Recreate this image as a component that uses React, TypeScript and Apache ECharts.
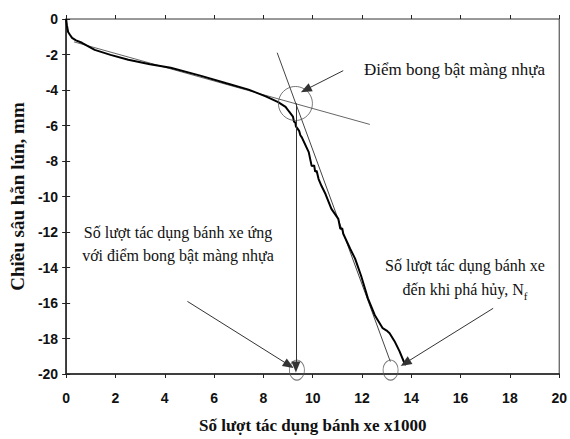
import React, { useEffect, useRef } from "react";
import * as echarts from "echarts";

const xTicks = [0, 2, 4, 6, 8, 10, 12, 14, 16, 18, 20];
const yTicks = [0, -2, -4, -6, -8, -10, -12, -14, -16, -18, -20];

const curveX = [0, 0.03, 0.08, 0.16, 0.24, 0.4, 0.64, 1.16, 1.8, 2.52, 3.4, 4.24, 5.44, 6.5, 7.4, 8.12, 8.6, 8.9, 9.04, 9.2, 9.24, 9.3, 9.32, 9.45, 9.5, 9.56, 9.84, 9.96, 10.06, 10.1, 10.16, 10.24, 10.36, 10.52, 10.76, 11.04, 11.12, 11.2, 11.24, 11.52, 11.72, 11.96, 12.12, 12.24, 12.52, 12.84, 13.0, 13.12, 13.32, 13.52, 13.72, 13.78];
const curveY = [0, -0.35, -0.73, -0.9, -1.06, -1.2, -1.34, -1.74, -2.02, -2.3, -2.55, -2.75, -3.19, -3.62, -3.98, -4.37, -4.68, -4.95, -5.21, -5.5, -5.77, -5.85, -6.05, -6.3, -6.55, -6.67, -7.5, -8.29, -8.25, -8.6, -8.55, -9.02, -9.41, -9.86, -10.7, -11.26, -11.82, -11.8, -12.1, -12.94, -13.5, -14.45, -15.18, -15.74, -16.69, -17.42, -17.55, -17.7, -18.15, -18.71, -19.38, -19.5];

const tangent1 = [[0.32, -1.29], [12.32, -5.94]];
const tangent2 = [[8.56, -1.9], [13.15, -19.3]];
const failPoint = [9.3, -4.76];
const bottomMarks = [[9.36, -19.78], [13.16, -19.78]];

const arrows = [
  [[11.24, -2.91], [9.72, -3.98]],
  [[9.32, -4.76], [9.32, -19.6]],
  [[4.92, -15.91], [9.04, -19.5]],
  [[17.32, -16.3], [13.76, -19.38]],
];

const serif = "'Liberation Serif', 'DejaVu Serif', serif";
const sans = "'Liberation Sans', Arial, sans-serif";

export default function App() {
  const ref = useRef<HTMLDivElement>(null);
  useEffect(() => {
    if (!ref.current) return;
    const chart = echarts.init(ref.current, null, { renderer: "svg" });
    const axisBase = {
      type: "value" as const,
      splitLine: { show: false },
    };
    chart.setOption({
      animation: false,
      backgroundColor: "#fff",
      grid: {
        left: 64,
        top: 19,
        right: 7,
        bottom: 63,
        show: true,
        borderColor: "#333",
        borderWidth: 1,
      },
      xAxis: [
        {
          ...axisBase,
          min: 0,
          max: 20,
          interval: 2,
          axisLine: { show: true, onZero: false, lineStyle: { color: "#222", width: 1.5 } },
          axisTick: { show: true, length: 4, lineStyle: { color: "#222" } },
          axisLabel: {
            fontFamily: sans,
            fontWeight: "bold",
            fontSize: 14,
            color: "#111",
            margin: 17,
          },
          name: "Số lượt tác dụng bánh xe x1000",
          nameLocation: "middle",
          nameGap: 43,
          nameTextStyle: { fontFamily: serif, fontWeight: "bold", fontSize: 17, color: "#111" },
        },
        {
          ...axisBase,
          min: 0,
          max: 20,
          interval: 2,
          position: "bottom",
          axisLine: { show: false },
          axisTick: { show: true, inside: true, length: 4, lineStyle: { color: "#222" } },
          axisLabel: { show: false },
        },
      ],
      yAxis: [
        {
          ...axisBase,
          min: -20,
          max: 0,
          interval: 2,
          axisLine: { show: true, onZero: false, lineStyle: { color: "#222", width: 1.5 } },
          axisTick: { show: true, length: 4, lineStyle: { color: "#222" } },
          axisLabel: {
            fontFamily: sans,
            fontWeight: "bold",
            fontSize: 14,
            color: "#111",
            margin: 8,
          },
          name: "Chiều sâu hằn lún, mm",
          nameLocation: "middle",
          nameGap: 36,
          nameTextStyle: { fontFamily: serif, fontWeight: "bold", fontSize: 19, color: "#111" },
        },
        {
          ...axisBase,
          min: -20,
          max: 0,
          interval: 2,
          position: "left",
          axisLine: { show: false },
          axisTick: { show: true, inside: true, length: 4, lineStyle: { color: "#222" } },
          axisLabel: { show: false },
        },
      ],
      series: [
        {
          type: "line",
          data: tangent1,
          showSymbol: false,
          lineStyle: { color: "#666", width: 1 },
          z: 2,
        },
        {
          type: "line",
          data: tangent2,
          showSymbol: false,
          lineStyle: { color: "#444", width: 1 },
          z: 2,
        },
        {
          type: "line",
          data: curveX.map((x, i) => [x, curveY[i]]),
          showSymbol: false,
          lineStyle: { color: "#000", width: 2 },
          z: 3,
        },
        {
          type: "scatter",
          data: [failPoint],
          symbol: "circle",
          symbolSize: 34,
          itemStyle: { color: "transparent", borderColor: "#555", borderWidth: 1 },
          z: 4,
        },
        {
          type: "scatter",
          data: bottomMarks,
          symbol: "circle",
          symbolSize: [15, 20],
          itemStyle: { color: "transparent", borderColor: "#555", borderWidth: 1 },
          z: 4,
        },
        {
          type: "line",
          data: [],
          markLine: {
            silent: true,
            symbol: ["none", "triangle"],
            symbolSize: [9, 11],
            label: { show: false },
            lineStyle: { color: "#333", width: 1, type: "solid" },
            data: arrows.map(([a, b]) => [{ coord: a }, { coord: b }]),
          },
          z: 5,
        },
      ],
      graphic: [
        {
          type: "text",
          x: 364,
          y: 61,
          style: { text: "Điểm bong bật màng nhựa", font: `17px ${serif}`, fill: "#111" },
        },
        {
          type: "text",
          x: 178,
          y: 221,
          style: {
            text: "Số lượt tác dụng bánh xe ứng\nvới điểm bong bật màng nhựa",
            font: `16px ${serif}`,
            fill: "#111",
            align: "center",
            lineHeight: 23,
          },
        },
        {
          type: "text",
          x: 465,
          y: 253,
          style: {
            text: "Số lượt tác dụng bánh xe\nđến khi phá hủy, N{s|f}",
            font: `16px ${serif}`,
            fill: "#111",
            align: "center",
            lineHeight: 24,
            rich: {
              s: { fontSize: 11, fontFamily: serif, verticalAlign: "bottom", padding: [7, 0, 0, 0] },
            },
          },
        },
      ],
    });
    return () => chart.dispose();
  }, []);
  return <div ref={ref} style={{ width: 570, height: 439, position: "absolute", left: 0, top: 0 }} />;
}
